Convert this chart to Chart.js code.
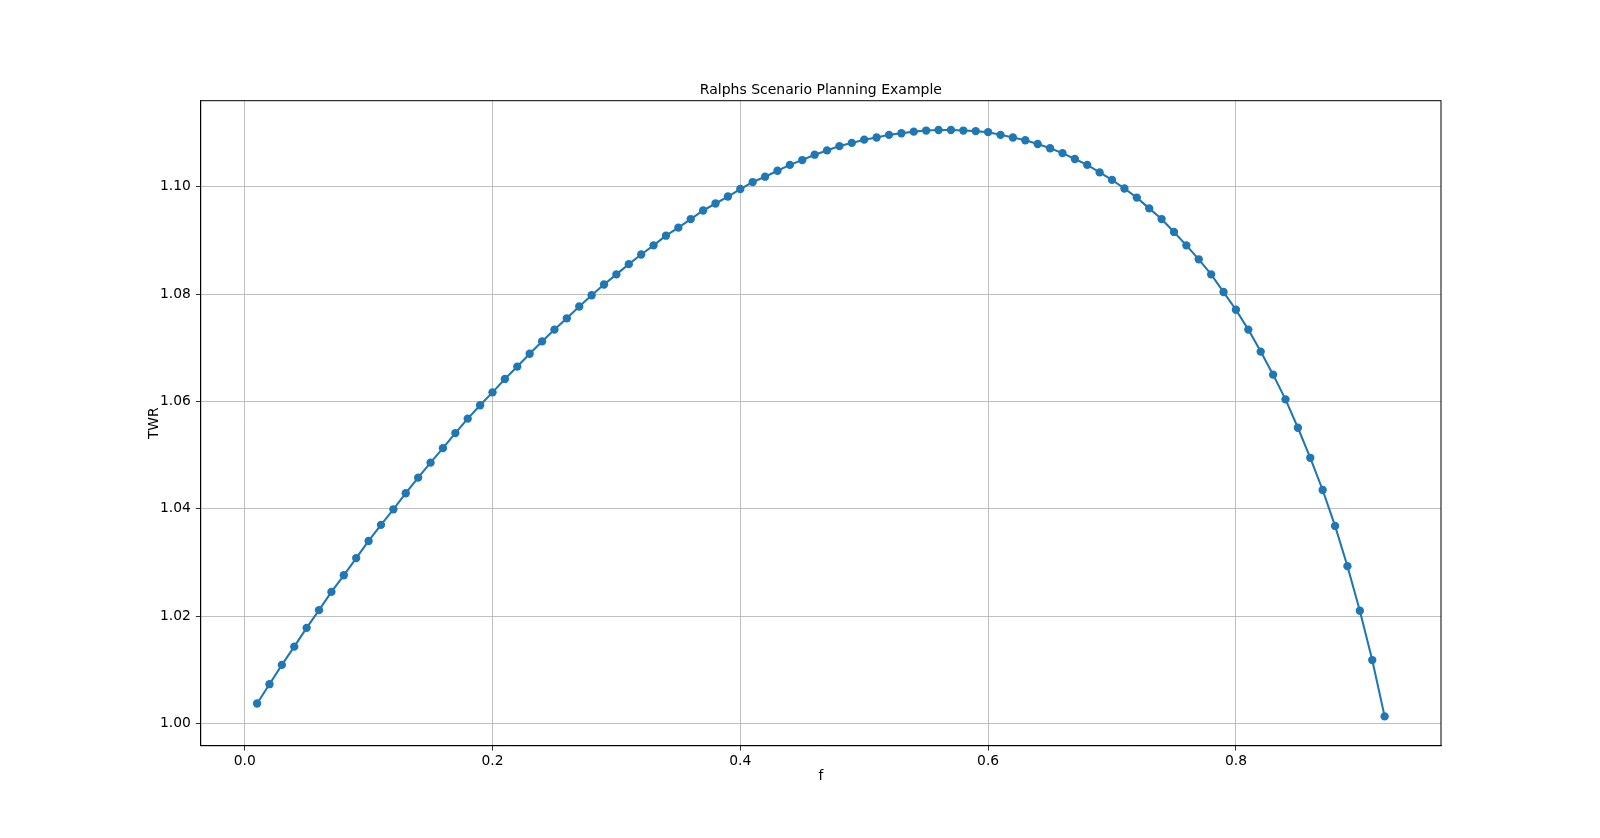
<!DOCTYPE html>
<html>
<head>
<meta charset="utf-8">
<script src="https://cdn.jsdelivr.net/npm/chart.js@4.4.1/dist/chart.umd.min.js"></script>
<style>
  html, body { margin: 0; padding: 0; background: #ffffff; }
  #wrap { width: 1600px; height: 838px; position: relative; }
</style>
</head>
<body>
<div id="wrap"><canvas id="c" width="1600" height="838"></canvas></div>
<script>
const chartTitle = "Ralphs Scenario Planning Example";
const xLabel = "f";
const yLabel = "TWR";

const fValues = [
  0.01, 0.02, 0.03, 0.04, 0.05, 0.06, 0.07, 0.08, 0.09, 0.10,
  0.11, 0.12, 0.13, 0.14, 0.15, 0.16, 0.17, 0.18, 0.19, 0.20,
  0.21, 0.22, 0.23, 0.24, 0.25, 0.26, 0.27, 0.28, 0.29, 0.30,
  0.31, 0.32, 0.33, 0.34, 0.35, 0.36, 0.37, 0.38, 0.39, 0.40,
  0.41, 0.42, 0.43, 0.44, 0.45, 0.46, 0.47, 0.48, 0.49, 0.50,
  0.51, 0.52, 0.53, 0.54, 0.55, 0.56, 0.57, 0.58, 0.59, 0.60,
  0.61, 0.62, 0.63, 0.64, 0.65, 0.66, 0.67, 0.68, 0.69, 0.70,
  0.71, 0.72, 0.73, 0.74, 0.75, 0.76, 0.77, 0.78, 0.79, 0.80,
  0.81, 0.82, 0.83, 0.84, 0.85, 0.86, 0.87, 0.88, 0.89, 0.90,
  0.91, 0.92
];

const twrValues = [
  1.0037, 1.0073, 1.0109, 1.0143, 1.0178, 1.0211, 1.0245, 1.0276, 1.0308, 1.0340,
  1.0370, 1.0399, 1.0429, 1.0458, 1.0486, 1.0513, 1.0541, 1.0568, 1.0593, 1.0617,
  1.0642, 1.0665, 1.0689, 1.0712, 1.0734, 1.0755, 1.0777, 1.0798, 1.0818, 1.0837,
  1.0856, 1.0874, 1.0891, 1.0909, 1.0924, 1.0940, 1.0956, 1.0969, 1.0982, 1.0996,
  1.1009, 1.1019, 1.1030, 1.1041, 1.1050, 1.1060, 1.1068, 1.1076, 1.1082, 1.1088,
  1.1092, 1.1097, 1.1100, 1.1103, 1.1105, 1.1106, 1.1106, 1.1105, 1.1104, 1.1102,
  1.1097, 1.1092, 1.1087, 1.1080, 1.1072, 1.1063, 1.1052, 1.1041, 1.1027, 1.1013,
  1.0997, 1.0980, 1.0960, 1.0940, 1.0916, 1.0891, 1.0865, 1.0837, 1.0804, 1.0771,
  1.0734, 1.0693, 1.0650, 1.0604, 1.0551, 1.0495, 1.0435, 1.0368, 1.0293, 1.0210,
  1.0118, 1.0013
];

const xTicks = [0.0, 0.2, 0.4, 0.6, 0.8];
const yTicks = [1.00, 1.02, 1.04, 1.06, 1.08, 1.10];

const FONT = "'DejaVu Sans', 'Liberation Sans', sans-serif";

// matplotlib-style 5% margins
const xMinD = Math.min(...fValues), xMaxD = Math.max(...fValues);
const yMinD = Math.min(...twrValues), yMaxD = Math.max(...twrValues);
const xPad = (xMaxD - xMinD) * 0.05, yPad = (yMaxD - yMinD) * 0.05;

const points = fValues.map((f, i) => ({ x: f, y: twrValues[i] }));

const AREA = { left: 200.7, top: 100.7, right: 1441, bottom: 745.7 };

const framePlugin = {
  id: 'frame',
  afterDraw(chart) {
    const ctx = chart.ctx;
    const a = chart.chartArea;
    ctx.save();
    ctx.strokeStyle = '#000000';
    ctx.lineWidth = 1;
    ctx.strokeRect(a.left, a.top, a.right - a.left, a.bottom - a.top);
    ctx.fillStyle = '#000000';
    const cx = (a.left + a.right) / 2;
    ctx.textAlign = 'center';
    ctx.textBaseline = 'alphabetic';
    ctx.font = "14px " + FONT;
    ctx.fillText(chartTitle, cx, a.top - 6.5);
    ctx.font = "13.89px " + FONT;
    ctx.fillText(xLabel, cx, 779.5);
    ctx.translate(153, (a.top + a.bottom) / 2);
    ctx.rotate(-Math.PI / 2);
    ctx.textBaseline = 'alphabetic';
    ctx.fillText(yLabel, 0, 4.5);
    ctx.restore();
  }
};

new Chart(document.getElementById('c'), {
  type: 'line',
  data: {
    datasets: [{
      data: points,
      borderColor: '#1f77b4',
      backgroundColor: '#1f77b4',
      borderWidth: 2.08,
      pointRadius: 4.17,
      pointHoverRadius: 4.17,
      pointBackgroundColor: '#1f77b4',
      pointBorderWidth: 0,
      tension: 0,
      fill: false
    }]
  },
  options: {
    responsive: false,
    animation: false,
    events: [],
    layout: { padding: { left: 0, top: AREA.top, right: 1600 - AREA.right, bottom: 0 } },
    plugins: { legend: { display: false }, title: { display: false }, tooltip: { enabled: false } },
    scales: {
      x: {
        type: 'linear',
        min: xMinD - xPad,
        max: xMaxD + xPad,
        afterBuildTicks: s => { s.ticks = xTicks.map(v => ({ value: v })); },
        afterFit: s => { s.height = 838 - AREA.bottom; },
        ticks: {
          color: '#000000',
          font: { family: FONT, size: 13.89 },
          padding: 3,
          maxRotation: 0,
          autoSkip: false,
          callback: v => Number(v).toFixed(1)
        },
        grid: {
          color: '#b0b0b0',
          lineWidth: 0.8,
          drawTicks: true,
          tickLength: 4.86,
          tickColor: '#000000',
          tickWidth: 0.8
        },
        border: { display: true, color: '#000000', width: 1 }
      },
      y: {
        type: 'linear',
        min: yMinD - yPad,
        max: yMaxD + yPad,
        afterBuildTicks: s => { s.ticks = yTicks.map(v => ({ value: v })); },
        afterFit: s => { s.width = AREA.left; },
        ticks: {
          color: '#000000',
          font: { family: FONT, size: 13.89 },
          padding: 5,
          autoSkip: false,
          callback: v => Number(v).toFixed(2)
        },
        grid: {
          color: '#b0b0b0',
          lineWidth: 0.8,
          drawTicks: true,
          tickLength: 4.86,
          tickColor: '#000000',
          tickWidth: 0.8
        },
        border: { display: true, color: '#000000', width: 1 }
      }
    }
  },
  plugins: [framePlugin]
});
</script>
</body>
</html>
